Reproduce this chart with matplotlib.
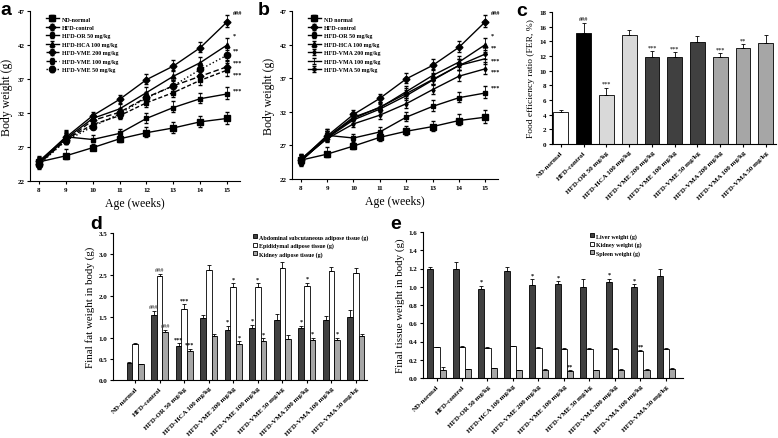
import numpy as np
import matplotlib.pyplot as plt

plt.rcParams['font.family'] = 'Liberation Serif'
plt.rcParams['font.weight'] = 'bold'
plt.rcParams['axes.linewidth'] = 0.8

W, H = 778, 439
fig = plt.figure(figsize=(W / 100, H / 100), dpi=100)


def px_axes(l, t, r, b):
    """Axes from pixel box (left, top, right, bottom)"""
    return fig.add_axes([l / W, 1 - b / H, (r - l) / W, (b - t) / H])


# ---- data: body weight ----
weeks = [8, 9, 10, 11, 12, 13, 14, 15]
nd_normal = [24.8, 25.7, 26.9, 28.2, 29.1, 29.8, 30.7, 31.2]
hfd_control = [24.9, 28.4, 31.6, 34.0, 36.9, 38.9, 41.6, 45.4]
hfd_or = [24.7, 28.5, 28.1, 29.0, 31.2, 32.8, 34.1, 34.8]
hfd_hca = [24.6, 28.2, 31.2, 32.6, 35.0, 37.4, 39.4, 42.0]
vme_200 = [24.5, 28.0, 30.9, 32.1, 34.3, 36.0, 37.4, 38.8]
vme_100 = [24.6, 28.1, 30.3, 31.6, 33.5, 35.0, 36.8, 38.3]
vme_50 = [24.4, 27.9, 30.0, 31.9, 34.2, 36.0, 38.4, 40.5]
vma_200 = [24.8, 28.0, 30.2, 31.5, 33.2, 35.3, 37.3, 38.4]
vma_100 = [24.7, 28.1, 30.8, 32.4, 34.4, 36.7, 38.9, 39.9]
vma_50 = [24.9, 28.2, 31.0, 32.7, 34.7, 36.8, 38.9, 40.6]
err_lo = [0.6, 0.5, 0.4, 0.5, 0.6, 0.7, 0.7, 0.8]
err_hi = [0.8, 1.0, 0.6, 0.7, 0.8, 0.9, 0.9, 1.0]

# ---- data: bar panels ----
groups = ['ND-normal', 'HFD-control', 'HFD-OR 50 mg/kg', 'HFD-HCA 100 mg/kg',
          'HFD-VME 200 mg/kg', 'HFD-VME 100 mg/kg', 'HFD-VME 50 mg/kg',
          'HFD-VMA 200 mg/kg', 'HFD-VMA 100 mg/kg', 'HFD-VMA 50 mg/kg']
fer = [4.3, 15.2, 6.7, 14.9, 11.9, 11.85, 13.9, 11.8, 13.05, 13.8]
fer_err = [0.4, 1.35, 1.0, 0.7, 0.8, 0.65, 0.85, 0.55, 0.55, 1.0]
fer_sig = ['', '###', '***', '', '***', '***', '', '***', '**', '']

abdominal = [0.40, 1.55, 0.80, 1.47, 1.19, 1.24, 1.44, 1.24, 1.43, 1.49]
abdominal_err = [0.04, 0.10, 0.08, 0.07, 0.10, 0.08, 0.12, 0.05, 0.10, 0.17]
abdominal_sig = ['', '###', '***', '', '*', '*', '', '*', '', '']
epididymal = [0.85, 2.48, 1.68, 2.62, 2.22, 2.21, 2.66, 2.25, 2.59, 2.54]
epididymal_err = [0.04, 0.04, 0.13, 0.13, 0.08, 0.09, 0.15, 0.07, 0.09, 0.13]
epididymal_sig = ['', '###', '***', '', '*', '*', '', '*', '', '']
kidney_fat = [0.37, 1.15, 0.69, 1.04, 0.85, 0.92, 0.98, 0.95, 0.96, 1.04]
kidney_fat_err = [0.02, 0.04, 0.06, 0.05, 0.08, 0.08, 0.09, 0.06, 0.05, 0.05]
kidney_fat_sig = ['', '###', '***', '', '*', '*', '', '*', '*', '']

liver = [1.19, 1.20, 0.98, 1.17, 1.02, 1.03, 1.00, 1.05, 1.00, 1.12]
liver_err = [0.03, 0.07, 0.03, 0.05, 0.06, 0.03, 0.09, 0.04, 0.03, 0.07]
liver_sig = ['', '', '*', '', '*', '*', '', '*', '*', '']
kidney_w = [0.335, 0.34, 0.33, 0.35, 0.33, 0.32, 0.32, 0.32, 0.30, 0.32]
kidney_w_err = [0.006, 0.006, 0.006, 0.006, 0.006, 0.005, 0.005, 0.005, 0.005, 0.005]
kidney_w_sig = ['', '', '', '', '', '', '', '', '**', '']
spleen = [0.085, 0.095, 0.105, 0.085, 0.09, 0.08, 0.085, 0.09, 0.09, 0.10]
spleen_err = [0.035, 0.004, 0.01, 0.004, 0.004, 0.004, 0.004, 0.004, 0.004, 0.005]
spleen_sig = ['', '', '', '', '', '**', '', '', '', '']

TICK = 5
LAB = 8.5


def style(ax):
    ax.spines['top'].set_visible(False)
    ax.spines['right'].set_visible(False)
    ax.tick_params(labelsize=TICK, length=2, width=0.8, pad=2)


def letter(x, y, s):
    fig.text(x / W, 1 - y / H, s, family='Liberation Sans', weight='bold',
             fontsize=14, va='top', ha='left')


# ---- line panels ----
def weight_panel(ax, series, sig):
    for vals, lab, ls, mk, ms in series:
        ax.errorbar(weeks, vals, yerr=[err_lo, err_hi], color='black', ls=ls,
                    lw=1.0, marker=mk, ms=ms, capsize=1.5, elinewidth=0.6,
                    label=lab)
    # significance marks right of the last point, dy in points
    for vals, s, dy in sig:
        ax.annotate(s, (15, vals[-1]), xytext=(4, dy),
                    textcoords='offset points', fontsize=4.5, va='center')
    ax.set_xlim(7.67, 15.48)
    ax.set_ylim(22, 47)
    ax.set_xticks(weeks)
    ax.set_yticks([22, 27, 32, 37, 42, 47])
    ax.set_xlabel('Age (weeks)', fontsize=LAB, labelpad=4)
    ax.set_ylabel('Body weight (g)', fontsize=LAB, labelpad=3)
    style(ax)
    ax.legend(loc='upper left', bbox_to_anchor=(0.05, 1.0), frameon=False,
              fontsize=4.3, handlelength=2.2, labelspacing=0.55,
              handletextpad=0.5)


ax_a = px_axes(30, 12, 240, 182)
weight_panel(ax_a, [
    (nd_normal, 'ND-normal', '-', 's', 4.5),
    (hfd_control, 'HFD-control', '-', 'D', 3.5),
    (hfd_or, 'HFD-OR 50 mg/kg', '-', 's', 3.5),
    (hfd_hca, 'HFD-HCA 100 mg/kg', '-', '^', 3.5),
    (vme_200, 'HFD-VME 200 mg/kg', (0, (4, 2)), 'D', 3.5),
    (vme_100, 'HFD-VME 100 mg/kg', (0, (3, 1.5)), 's', 3.5),
    (vme_50, 'HFD-VME 50 mg/kg', ':', 'o', 4.5),
], [(hfd_control, '###', 7), (hfd_hca, '*', 7), (vme_50, '**', 4),
    (vme_200, '***', 3), (vme_100, '***', -3), (hfd_or, '***', 3)])
letter(0, 2, 'a')

ax_b = px_axes(292, 12, 498, 180)
weight_panel(ax_b, [
    (nd_normal, 'ND normal', '-', 's', 4.5),
    (hfd_control, 'HFD-control', '-', 'D', 3.5),
    (hfd_or, 'HFD-OR 50 mg/kg', '-', 's', 3.5),
    (hfd_hca, 'HFD-HCA 100 mg/kg', '-', '^', 3.5),
    (vma_200, 'HFD-VMA 200 mg/kg', '-', 'd', 2.5),
    (vma_100, 'HFD-VMA 100 mg/kg', '-', '', 0),
    (vma_50, 'HFD-VMA 50 mg/kg', '-', 'P', 2.5),
], [(hfd_control, '###', 7), (hfd_hca, '*', 7), (vma_50, '**', 5),
    (vma_100, '***', -1), (vma_200, '***', -2), (hfd_or, '***', 4)])
letter(258, 2, 'b')

# ---- panel c ----
ax_c = px_axes(552, 13, 776, 145)
x = np.arange(len(groups))
fer_colors = ['white', 'black', '#d9d9d9', '#d9d9d9', '#404040', '#404040',
              '#404040', '#a6a6a6', '#a6a6a6', '#a6a6a6']
ax_c.bar(x, fer, width=0.65, color=fer_colors, edgecolor='black', lw=0.6,
         yerr=[np.zeros(len(fer)), fer_err], capsize=1.5,
         error_kw=dict(elinewidth=0.6, capthick=0.6))
for xi, v, e, s in zip(x, fer, fer_err, fer_sig):
    if s:
        ax_c.text(xi, v + e + 0.2, s, ha='center', va='bottom', fontsize=4.5,
                  color='#333333')
ax_c.set_xlim(-0.39, 9.45)
ax_c.set_ylim(0, 18)
ax_c.set_yticks(range(0, 19, 2))
ax_c.set_xticks(x)
ax_c.set_xticklabels(groups, rotation=45, ha='right', rotation_mode='anchor')
ax_c.set_ylabel('Food efficiency ratio (FER, %)', fontsize=6.8, labelpad=3)
style(ax_c)
letter(516, 3, 'c')


# ---- grouped bar panels ----
def grouped(ax, series, width, ylim, yticks, ylabel, legend_x):
    n = len(series)
    for k, (vals, err, sig, col, lab) in enumerate(series):
        pos = x + (k - (n - 1) / 2) * width
        ax.bar(pos, vals, width=width, color=col, edgecolor='black', lw=0.6,
               yerr=[np.zeros(len(vals)), err], capsize=1.2,
               error_kw=dict(elinewidth=0.6, capthick=0.6), label=lab)
        for p, v, e, s in zip(pos, vals, err, sig):
            if s:
                ax.text(p, v + e + ylim[1] * 0.012, s, ha='center',
                        va='bottom', fontsize=4.5,
                        color='#555555' if s == '###' else 'black')
    ax.set_ylim(*ylim)
    ax.set_yticks(yticks)
    ax.set_yticklabels([f'{t:.1f}' for t in yticks])
    ax.set_xticks(x)
    ax.set_xticklabels(groups, rotation=45, ha='right', rotation_mode='anchor')
    ax.set_ylabel(ylabel, fontsize=7.8, labelpad=3)
    style(ax)
    ax.legend(loc='upper left', bbox_to_anchor=(legend_x, 1.03), frameon=False,
              fontsize=4.3, handlelength=0.7, handleheight=0.7,
              labelspacing=0.45, handletextpad=0.3)


ax_d = px_axes(113, 234, 367, 381)
grouped(ax_d, [
    (abdominal, abdominal_err, abdominal_sig, '#404040',
     'Abdominal subcutaneous adipose tissue (g)'),
    (epididymal, epididymal_err, epididymal_sig, 'white',
     'Epididymal adipose tissue (g)'),
    (kidney_fat, kidney_fat_err, kidney_fat_sig, '#a6a6a6',
     'Kidney adipose tissue (g)'),
], 0.23, (0, 3.5), np.arange(0, 3.51, 0.5), 'Final fat weight in body (g)', 0.53)
ax_d.set_xlim(-0.9, 9.45)
letter(90, 216, 'd')

ax_e = px_axes(423, 233, 683, 379)
grouped(ax_e, [
    (liver, liver_err, liver_sig, '#404040', 'Liver weight (g)'),
    (kidney_w, kidney_w_err, kidney_w_sig, 'white', 'Kidney weight (g)'),
    (spleen, spleen_err, spleen_sig, '#a6a6a6', 'Spleen weight (g)'),
], 0.24, (0, 1.6), np.arange(0, 1.61, 0.2), 'Final tissue weight in body (g)', 0.62)
ax_e.set_xlim(-0.53, 9.67)
letter(390, 216, 'e')

fig.savefig('out.png', dpi=100)
